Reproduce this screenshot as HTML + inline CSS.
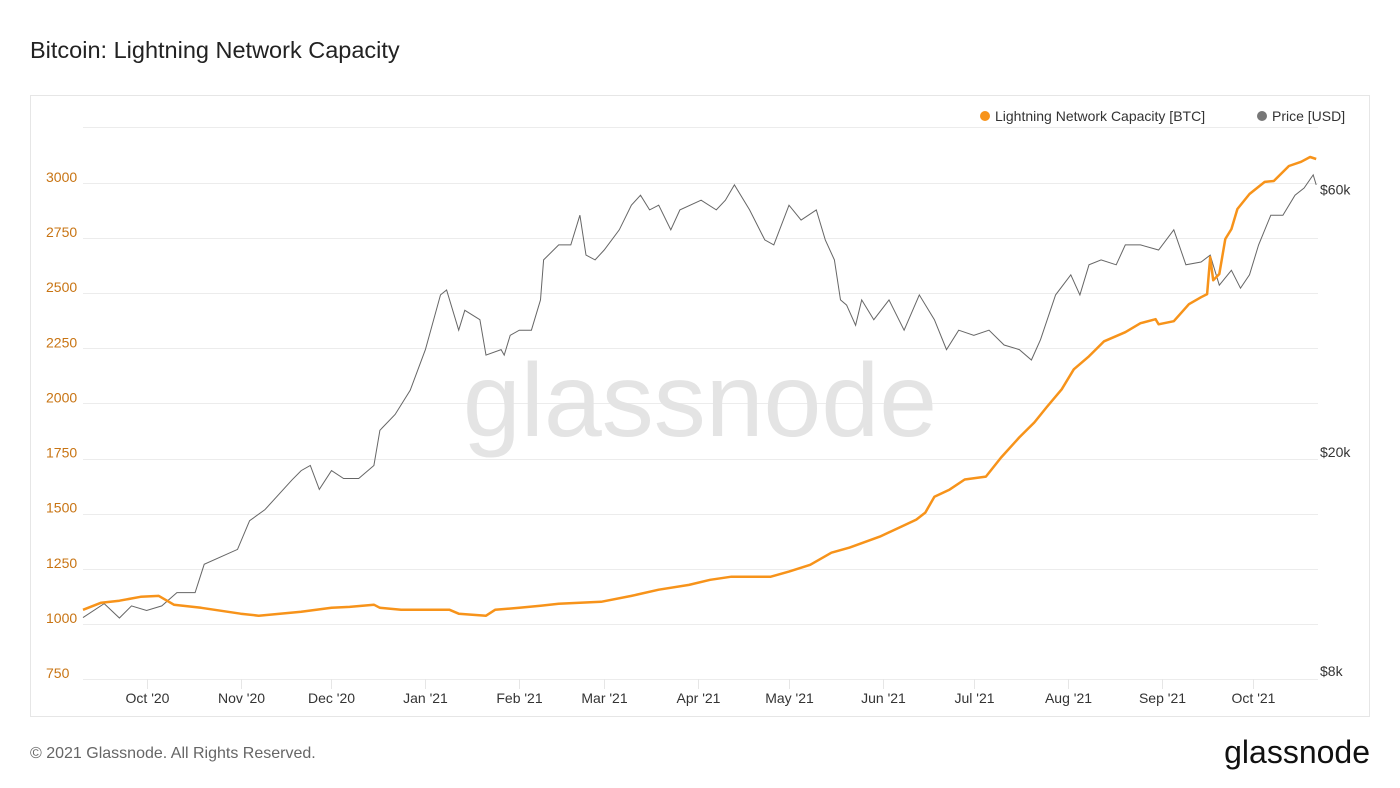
<!DOCTYPE html>
<html><head><meta charset="utf-8"><style>
body{margin:0;background:#fff;font-family:"Liberation Sans",sans-serif;}
#wrap{position:relative;width:1400px;height:788px;overflow:hidden;}
</style></head><body>
<div id="wrap">
<svg id="svg" width="1400" height="788" xmlns="http://www.w3.org/2000/svg">
<text x="30" y="58" font-size="23.5" fill="#222">Bitcoin: Lightning Network Capacity</text>
<rect x="30.5" y="95.5" width="1339" height="621" fill="none" stroke="#e6e6e6"/>
<line x1="83" y1="127.5" x2="1318" y2="127.5" stroke="#ececec"/>
<g id="grid"></g>
<g id="xaxis"></g>
<g id="ylabels"></g>
<g id="rlabels"></g>
<text x="700" y="436" font-size="104" fill="#e4e4e4" text-anchor="middle">glassnode</text>
<path id="priceLine" fill="none" stroke="#666" stroke-width="1"/>
<path id="capLine" fill="none" stroke="#f7931a" stroke-width="2.5" stroke-linejoin="round"/>
<g><circle cx="985" cy="116" r="5" fill="#f7931a"/><text x="995" y="121" font-size="14" fill="#333">Lightning Network Capacity [BTC]</text></g>
<g><circle cx="1262" cy="116" r="5" fill="#777"/><text x="1272" y="121" font-size="14" fill="#333">Price [USD]</text></g>
<text x="30" y="758" font-size="16" fill="#666">© 2021 Glassnode. All Rights Reserved.</text>
<text x="1370" y="763" font-size="32" fill="#111" text-anchor="end">glassnode</text>
</svg>
</div>
<script>
const capDays=[0,6,12,19,25,30,39,52,58,72,82,88,96,98,105,115,121,124,133,136,144,151,157,171,181,190,200,207,214,227,233,240,247,253,263,270,275,278,281,286,291,298,303,309,314,318,323,327,332,337,344,349,354,355,360,365,369,371,372,373,375,377,379,381,385,390,393,398,402,405,407];
const capValues=[1064,1096,1105,1123,1127,1087,1073,1046,1037,1055,1073,1077,1087,1073,1064,1064,1064,1046,1037,1064,1073,1082,1091,1100,1127,1155,1177,1200,1214,1214,1237,1268,1323,1346,1396,1441,1473,1505,1577,1609,1655,1668,1755,1846,1914,1982,2064,2155,2214,2282,2323,2364,2382,2359,2373,2450,2482,2496,2664,2559,2587,2746,2791,2882,2950,3005,3009,3077,3096,3118,3109];
const priceDays=[0,7,12,16,21,26,31,37,40,51,55,60,69,72,75,78,82,86,91,96,98,103,108,113,118,120,124,126,131,133,138,139,141,144,148,151,152,157,161,164,166,169,172,177,181,184,187,190,194,197,204,209,212,215,220,225,228,233,237,242,245,248,250,252,255,257,261,266,271,276,281,285,289,294,299,304,309,313,316,321,326,329,332,336,341,344,349,355,360,364,369,372,375,379,382,385,388,392,396,400,403,406,407];
const priceValues=[10000,10600,9980,10500,10300,10500,11100,11100,12500,13300,15000,15700,17800,18500,18900,17100,18500,17900,17900,18900,21900,23400,25900,30700,38600,39400,33300,36200,34800,30000,30700,30000,32600,33300,33300,37800,44700,47600,47600,53900,45600,44700,46600,50700,56200,58600,55100,56200,50700,55100,57400,55100,57400,61200,55100,48600,47600,56200,52800,55100,48600,44700,37800,37000,34000,37800,34800,37800,33300,38600,34800,30700,33300,32600,33300,31300,30700,29400,32000,38600,42000,38600,43800,44700,43800,47600,47600,46600,50700,43800,44300,45600,40200,42800,39700,42000,47600,53900,53900,58600,60400,63800,61200];
const capTicks=[750,1000,1250,1500,1750,2000,2250,2500,2750,3000];
const priceTicks=[8000,20000,60000];
const priceTickLabels=['$8k','$20k','$60k'];
const monthDays=[21,52,82,113,144,172,203,233,264,294,325,356,386];
const monthLabels=["Oct '20","Nov '20","Dec '20","Jan '21","Feb '21","Mar '21","Apr '21","May '21","Jun '21","Jul '21","Aug '21","Sep '21","Oct '21"];

const NS='http://www.w3.org/2000/svg';
const xs=d=>83+d*3.03;
const yc=v=>679-(v-750)*(496/2250);
const yp=p=>452-Math.log10(p/20000)*550;
function mk(tag,attrs,parent,txt){const e=document.createElementNS(NS,tag);for(const k in attrs)e.setAttribute(k,attrs[k]);if(txt!==undefined)e.textContent=txt;parent.appendChild(e);return e;}
const grid=document.getElementById('grid'),yl=document.getElementById('ylabels'),rl=document.getElementById('rlabels'),xa=document.getElementById('xaxis');
capTicks.forEach(v=>{
  const l=mk('line',{x1:83,x2:1318,y1:Math.round(yc(v))+0.5,y2:Math.round(yc(v))+0.5,stroke:'#ececec'},grid);
  
  
  const t=mk('text',{x:46,y:yc(v)-1,'font-size':14,fill:'#c87413'},yl,String(v));
  
  
});
priceTicks.forEach((p,i)=>{
  const t=mk('text',{x:1320,y:yp(p)+5,'font-size':14,fill:'#333'},rl,priceTickLabels[i]);
  
  
});
monthDays.forEach((d,i)=>{
  const x=Math.round(xs(d))+0.5;
  const l=mk('line',{x1:x,x2:x,y1:679,y2:689,stroke:'#e6e6e6'},xa);
  
  
  const t=mk('text',{x:x,y:703,'font-size':14,fill:'#333','text-anchor':'middle'},xa,monthLabels[i]);
  
  
});
document.getElementById('capLine').setAttribute('d',capDays.map((d,i)=>(i?'L':'M')+xs(d).toFixed(1)+','+yc(capValues[i]).toFixed(1)).join(''));
document.getElementById('priceLine').setAttribute('d',priceDays.map((d,i)=>(i?'L':'M')+xs(d).toFixed(1)+','+yp(priceValues[i]).toFixed(1)).join(''));
</script>
</body></html>
